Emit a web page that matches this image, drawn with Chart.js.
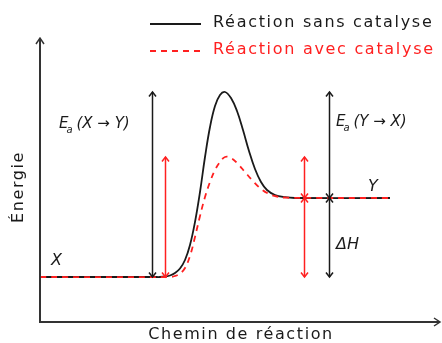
<!DOCTYPE html>
<html>
<head>
<meta charset="utf-8">
<script src="https://cdn.jsdelivr.net/npm/chart.js@4"></script>
<style>
    html, body { margin: 0; padding: 0; background: #fff; }
    #wrap { width: 442px; height: 343px; }
</style>
</head>
<body>
<div id="wrap"><canvas id="energyChart"></canvas></div>
<script>
// Reaction coordinate and energy, uncatalysed path
const pathSans = [0, 115, 120, 125, 130, 135, 140, 145, 150, 155, 160, 165, 170, 175, 180, 185, 191, 197, 203, 209, 215, 221, 227, 235, 245, 255, 350];
const energySans = [45, 45, 45, 45.5, 46.5, 49, 53.5, 62, 77, 100, 130, 165, 195, 216, 227, 230, 224, 211, 192, 171, 153, 140, 132, 127, 124.8, 124, 124];

// Catalysed path
const pathAvec = [0, 130, 135, 140, 145, 150, 155, 160, 165, 170, 175, 180, 185, 191, 198, 205, 212, 220, 228, 237, 247, 350];
const energyAvec = [45, 45, 46, 48.5, 54, 66, 85, 106, 125, 140, 152, 160, 165, 164, 158, 150, 142, 134, 128.5, 125.5, 124.3, 124];

// Energy levels
const levelX = 45;
const levelY = 124;
const peakSans = 230;
const peakAvec = 165;

// Legend labels
const seriesLabels = ['Réaction sans catalyse', 'Réaction avec catalyse'];

const BLACK = '#1a1a1a';
const RED = '#ff2020';

function toPoints(xs, ys) {
    return xs.map((x, i) => ({ x: x, y: ys[i] }));
}

function chevron(ctx, x, y, dir, color) {
    // dir: -1 points up, 1 points down
    ctx.save();
    ctx.strokeStyle = color;
    ctx.lineWidth = 1.5;
    ctx.beginPath();
    ctx.moveTo(x - 3.5, y - dir * 4.5);
    ctx.lineTo(x, y);
    ctx.lineTo(x + 3.5, y - dir * 4.5);
    ctx.stroke();
    ctx.restore();
}

function doubleArrow(chart, xv, y1v, y2v, color) {
    const ctx = chart.ctx;
    const sx = chart.scales.x, sy = chart.scales.y;
    const x = Math.round(sx.getPixelForValue(xv)) + 0.5;
    const top = sy.getPixelForValue(Math.max(y1v, y2v));
    const bot = sy.getPixelForValue(Math.min(y1v, y2v));
    ctx.save();
    ctx.strokeStyle = color;
    ctx.lineWidth = 1.5;
    ctx.beginPath();
    ctx.moveTo(x, top);
    ctx.lineTo(x, bot);
    ctx.stroke();
    ctx.restore();
    chevron(ctx, x, top, -1, color);
    chevron(ctx, x, bot, 1, color);
}

function eaLabel(ctx, x, y, rest) {
    ctx.save();
    ctx.fillStyle = BLACK;
    ctx.textBaseline = 'alphabetic';
    ctx.font = 'italic 15px "DejaVu Sans"';
    ctx.fillText('E', x, y);
    const w = ctx.measureText('E').width;
    ctx.font = 'italic 10px "DejaVu Sans"';
    ctx.fillText('a', x + w - 2, y + 5);
    ctx.font = 'italic 15px "DejaVu Sans"';
    ctx.fillText(rest, x + w + 8, y);
    ctx.restore();
}

const diagramPlugin = {
    id: 'diagram',
    afterDraw(chart) {
        const ctx = chart.ctx;
        const a = chart.chartArea;

        // axes with arrow tips
        ctx.save();
        ctx.strokeStyle = '#333';
        ctx.lineWidth = 2;
        ctx.beginPath();
        ctx.moveTo(a.left, a.top);
        ctx.lineTo(a.left, a.bottom);
        ctx.lineTo(a.right, a.bottom);
        ctx.stroke();
        ctx.lineWidth = 1.5;
        ctx.beginPath();
        ctx.moveTo(a.left - 4, a.top + 6);
        ctx.lineTo(a.left, a.top);
        ctx.lineTo(a.left + 4, a.top + 6);
        ctx.moveTo(a.right - 6, a.bottom - 4);
        ctx.lineTo(a.right, a.bottom);
        ctx.lineTo(a.right - 6, a.bottom + 4);
        ctx.stroke();
        ctx.restore();

        // activation energies and enthalpy
        doubleArrow(chart, 112, levelX, peakSans, BLACK);
        doubleArrow(chart, 125, levelX, peakAvec, RED);
        doubleArrow(chart, 264, levelY, peakAvec, RED);
        doubleArrow(chart, 264, levelX, levelY, RED);
        doubleArrow(chart, 289, levelY, peakSans, BLACK);
        doubleArrow(chart, 289, levelX, levelY, BLACK);

        // labels
        eaLabel(ctx, 59, 128, '(X \u2192 Y)');
        eaLabel(ctx, 336, 126, '(Y \u2192 X)');
        ctx.save();
        ctx.fillStyle = BLACK;
        ctx.font = 'italic 16px "DejaVu Sans"';
        ctx.fillText('X', 51, 265);
        ctx.fillText('Y', 368, 191);
        ctx.fillText('\u0394H', 336, 249);
        ctx.restore();

        // axis titles
        ctx.save();
        ctx.fillStyle = BLACK;
        ctx.font = '16px "DejaVu Sans"';
        ctx.letterSpacing = '1.6px';
        ctx.textAlign = 'center';
        ctx.textBaseline = 'middle';
        ctx.fillText('Chemin de réaction', 241, 335);
        ctx.translate(19, 187);
        ctx.rotate(-Math.PI / 2);
        ctx.fillText('Énergie', 0, 0);
        ctx.restore();

        // legend
        ctx.save();
        ctx.lineWidth = 1.8;
        ctx.strokeStyle = BLACK;
        ctx.beginPath();
        ctx.moveTo(150, 24);
        ctx.lineTo(201, 24);
        ctx.stroke();
        ctx.strokeStyle = RED;
        ctx.setLineDash([6, 5]);
        ctx.beginPath();
        ctx.moveTo(150, 51);
        ctx.lineTo(201, 51);
        ctx.stroke();
        ctx.setLineDash([]);
        ctx.font = '16px "DejaVu Sans"';
        ctx.letterSpacing = '1.7px';
        ctx.textBaseline = 'middle';
        ctx.fillStyle = BLACK;
        ctx.fillText(seriesLabels[0], 213, 23);
        ctx.fillStyle = RED;
        ctx.fillText(seriesLabels[1], 213, 50);
        ctx.restore();
    }
};

new Chart(document.getElementById('energyChart'), {
    type: 'line',
    data: {
        datasets: [
            {
                label: seriesLabels[0],
                data: toPoints(pathSans, energySans),
                borderColor: BLACK,
                borderWidth: 1.8,
                pointRadius: 0,
                tension: 0.4,
                order: 1
            },
            {
                label: seriesLabels[1],
                data: toPoints(pathAvec, energyAvec),
                borderColor: RED,
                borderWidth: 1.8,
                borderDash: [6, 5],
                pointRadius: 0,
                tension: 0.4,
                order: 0
            }
        ]
    },
    options: {
        responsive: true,
        maintainAspectRatio: false,
        animation: false,
        layout: { padding: { left: 40, right: 2, top: 38, bottom: 21 } },
        plugins: {
            legend: { display: false },
            tooltip: { enabled: false }
        },
        scales: {
            x: { type: 'linear', min: 0, max: 400, display: false },
            y: { min: 0, max: 284, display: false }
        }
    },
    plugins: [diagramPlugin]
});
</script>
</body>
</html>
